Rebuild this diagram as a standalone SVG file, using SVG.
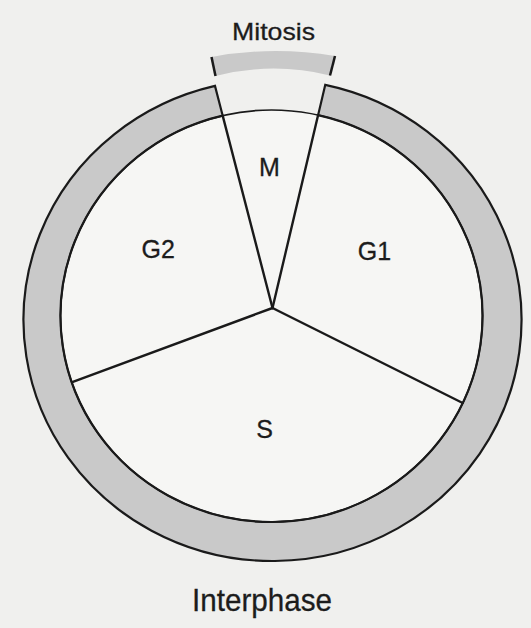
<svg xmlns="http://www.w3.org/2000/svg" width="531" height="628" viewBox="0 0 531 628">
  <style>
    .lbl { font-family: "Liberation Sans", Arial, Helvetica, sans-serif; fill: #1c1c1c; stroke: #1c1c1c; stroke-width: 0.3; text-anchor: middle; }
    .edge { stroke: #1a1a1a; stroke-width: 2.2; stroke-linejoin: miter; }
    .spoke { stroke: #1a1a1a; stroke-width: 2.4; stroke-linecap: round; fill: none; }
    .band { fill: #c9c9c9; }
  </style>
  <rect id="background" x="0" y="0" width="531" height="628" fill="#f0f0ee"/>

  <g id="cycle-disc">
    <ellipse cx="271.5" cy="316" rx="211" ry="206" fill="#f6f6f4"/>
  </g>

  <g id="interphase-ring">
    <path class="band edge" d="M 214.98,85.91 A 249 240.8 0 1 0 325.27,84.87 L 318.12,115.09 A 211 206 0 1 1 222.67,115.59 Z"/>
    <ellipse cx="271.5" cy="316" rx="211" ry="206" fill="none" stroke="#1a1a1a" stroke-width="1.7"/>
  </g>

  <g id="mitosis-bar">
    <path class="band" d="M 211.5,57 Q 273,45.5 335,56 L 330,75.5 Q 273,61.5 215.5,76 Z" fill="#c0c0c0"/>
    <line x1="211.5" y1="57" x2="215.5" y2="76" stroke="#1a1a1a" stroke-width="2.5"/>
    <line x1="335" y1="56" x2="330" y2="75.5" stroke="#1a1a1a" stroke-width="2.5"/>
  </g>

  <g id="dividers">
    <line class="spoke" x1="272.5" y1="308" x2="222.67" y2="115.59"/>
    <line class="spoke" x1="272.5" y1="308" x2="318.12" y2="115.09"/>
    <line class="spoke" x1="272.5" y1="308" x2="72.2" y2="382.1"/>
    <line class="spoke" x1="272.5" y1="308" x2="462.7" y2="403"/>
  </g>

  <g id="phase-M"><text class="lbl" x="269.5" y="176" font-size="25">M</text></g>
  <g id="phase-G2"><text class="lbl" x="158.3" y="258" font-size="25">G2</text></g>
  <g id="phase-G1"><text class="lbl" x="374.5" y="259.5" font-size="25">G1</text></g>
  <g id="phase-S"><text class="lbl" x="264.7" y="438" font-size="25">S</text></g>
  <g id="label-mitosis"><text class="lbl" x="273.5" y="40" font-size="24.5" textLength="83" lengthAdjust="spacingAndGlyphs">Mitosis</text></g>
  <g id="label-interphase"><text class="lbl" x="262" y="611" font-size="32" textLength="140" lengthAdjust="spacingAndGlyphs">Interphase</text></g>
</svg>
